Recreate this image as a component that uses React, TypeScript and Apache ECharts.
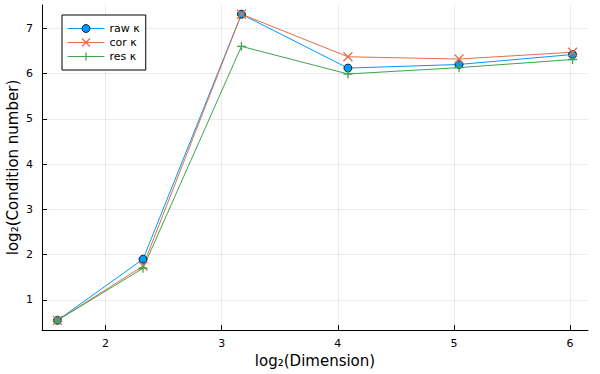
import React, { useEffect, useRef } from "react";
import * as echarts from "echarts";

const dims = [1.585, 2.322, 3.17, 4.087, 5.044, 6.022];
const rawK = [0.55, 1.9, 7.31, 6.12, 6.2, 6.42];
const corK = [0.55, 1.75, 7.31, 6.37, 6.32, 6.47];
const resK = [0.55, 1.7, 6.6, 5.99, 6.13, 6.31];
const xTicks = [2, 3, 4, 5, 6];
const yTicks = [1, 2, 3, 4, 5, 6, 7];
const names = ["raw κ", "cor κ", "res κ"];

const BLUE = "#009AFA";
const ORANGE = "#E36F47";
const GREEN = "#3EA44E";
const FONT = "DejaVu Sans";

const pairs = (ys: number[]) => dims.map((x, i) => [x, ys[i]]);

export default function App() {
  const ref = useRef<HTMLDivElement>(null);
  useEffect(() => {
    if (!ref.current) return;
    const chart = echarts.init(ref.current, null, { renderer: "svg" });
    const axisCommon = {
      type: "value" as const,
      nameLocation: "middle" as const,
      nameTextStyle: { fontFamily: FONT, fontSize: 15, color: "#000" },
      axisLine: { show: true, lineStyle: { color: "#000", width: 1 } },
      axisTick: { show: true, inside: true, length: 5, lineStyle: { color: "#000", width: 1 } },
      axisLabel: { fontFamily: FONT, fontSize: 11, color: "#000" },
      splitLine: { show: true, lineStyle: { color: "rgba(0,0,0,0.08)", width: 1 } },
    };
    chart.setOption({
      animation: false,
      backgroundColor: "#fff",
      grid: { left: 42, right: 12, top: 5, bottom: 44, containLabel: false, outerBoundsMode: "none" },
      legend: {
        orient: "vertical",
        left: 62,
        top: 15,
        backgroundColor: "#fff",
        borderColor: "#000",
        borderWidth: 1,
        borderRadius: 0,
        padding: [8, 6, 8, 5],
        itemWidth: 37,
        itemHeight: 10,
        itemGap: 3,
        lineStyle: { width: 1 },
        textStyle: { fontFamily: FONT, fontSize: 11, color: "#000" },
        data: [
          { name: names[0], itemStyle: { borderWidth: 0.8, borderColor: "#000" } },
          { name: names[1], itemStyle: { borderWidth: 1.2 } },
          { name: names[2], itemStyle: { borderWidth: 1.2 } },
        ],
      },
      xAxis: {
        ...axisCommon,
        name: "log₂(Dimension)",
        nameGap: 20,
        min: 1.452,
        max: 6.155,
        axisTick: { ...axisCommon.axisTick, customValues: xTicks },
        axisLabel: { ...axisCommon.axisLabel, customValues: xTicks, margin: 8 },
      },
      yAxis: {
        ...axisCommon,
        name: "log₂(Condition number)",
        nameGap: 22,
        nameMoveOverlap: false,
        min: 0.337,
        max: 7.513,
        axisTick: { ...axisCommon.axisTick, customValues: yTicks },
        axisLabel: { ...axisCommon.axisLabel, customValues: yTicks, margin: 9 },
      },
      series: [
        {
          name: names[0],
          type: "line",
          data: pairs(rawK),
          symbol: "circle",
          symbolSize: 8,
          lineStyle: { color: BLUE, width: 1 },
          itemStyle: { color: BLUE, borderColor: "#000", borderWidth: 0.8 },
        },
        {
          name: names[1],
          type: "line",
          data: pairs(corK),
          symbol: "path://M0 0L10 10M10 0L0 10",
          symbolSize: 9,
          lineStyle: { color: ORANGE, width: 1 },
          itemStyle: { color: ORANGE, borderColor: ORANGE, borderWidth: 1.3 },
        },
        {
          name: names[2],
          type: "line",
          data: pairs(resK),
          symbol: "path://M5 0L5 10M0 5L10 5",
          symbolSize: 9,
          lineStyle: { color: GREEN, width: 1 },
          itemStyle: { color: GREEN, borderColor: GREEN, borderWidth: 1.3 },
        },
      ],
    });
    return () => chart.dispose();
  }, []);
  return (
    <div
      ref={ref}
      style={{ position: "fixed", left: 0, top: 0, width: 600, height: 374 }}
    />
  );
}
